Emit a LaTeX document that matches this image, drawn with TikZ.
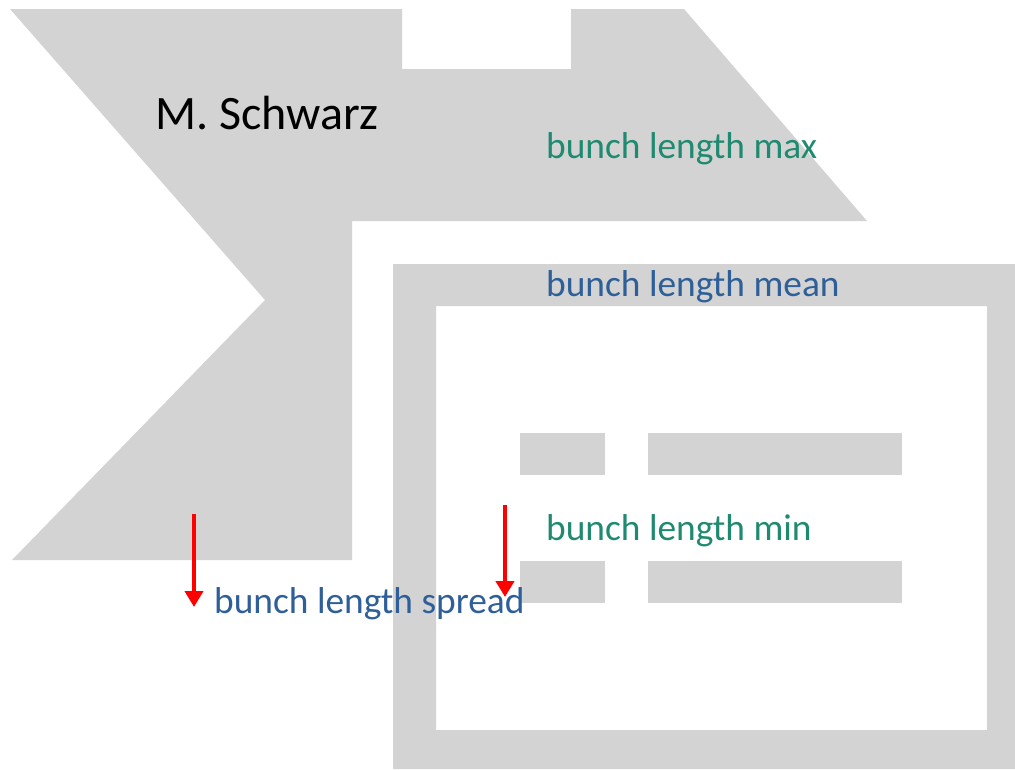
\documentclass[tikz,border=0pt]{standalone}
\usepackage{fontspec}
\setmainfont{Carlito}
\usetikzlibrary{arrows.meta}
\definecolor{shapegray}{RGB}{210,211,210}
\definecolor{txtgreen}{RGB}{31,138,112}
\definecolor{txtblue}{RGB}{47,95,152}
\definecolor{arrred}{RGB}{255,0,0}
\tikzset{
  graybody/.style={fill=shapegray, draw=none},
  lbl/.style={inner sep=0pt, anchor=base west},
  greenlbl/.style={lbl, text=txtgreen, font=\fontsize{37.4}{42}\selectfont},
  bluelbl/.style={lbl, text=txtblue, font=\fontsize{37.4}{42}\selectfont},
  redarrow/.style={draw=arrred, line width=4pt, -{Triangle[width=18pt,length=16pt]}}
}
\begin{document}
\begin{tikzpicture}[x=1pt,y=-1pt]
\useasboundingbox (0,0) rectangle (1015,769);
% left chevron shape
\fill[graybody] (10,9) -- (402,9) -- (402,69) -- (571,69) -- (571,9) -- (684,9)
  -- (867,221) -- (352,221) -- (352,560) -- (12,560) -- (265,300) -- cycle;
% right frame
\fill[graybody, even odd rule] (393,264) rectangle (1015,769) (436,306) rectangle (987,730);
% small bars
\fill[graybody] (520,433) rectangle (605,475);
\fill[graybody] (648,433) rectangle (902,475);
\fill[graybody] (520,561) rectangle (605,603);
\fill[graybody] (648,561) rectangle (902,603);
% texts
\node[lbl, font=\fontsize{48}{52}\selectfont] (author) at (155,129) {M. Schwarz};
\node[greenlbl] (max) at (546,158) {bunch length max};
\node[bluelbl] (mean) at (546,296) {bunch length mean};
\node[greenlbl] (min) at (546,540) {bunch length min};
\node[bluelbl] (spread) at (214,613) {bunch length spread};
% arrows
\coordinate (a1s) at (194,514);
\coordinate (a1e) at (194,607);
\coordinate (a2s) at (505,505);
\coordinate (a2e) at (505,597);
\draw[redarrow] (a1s) -- (a1e);
\draw[redarrow] (a2s) -- (a2e);
\end{tikzpicture}
\end{document}
